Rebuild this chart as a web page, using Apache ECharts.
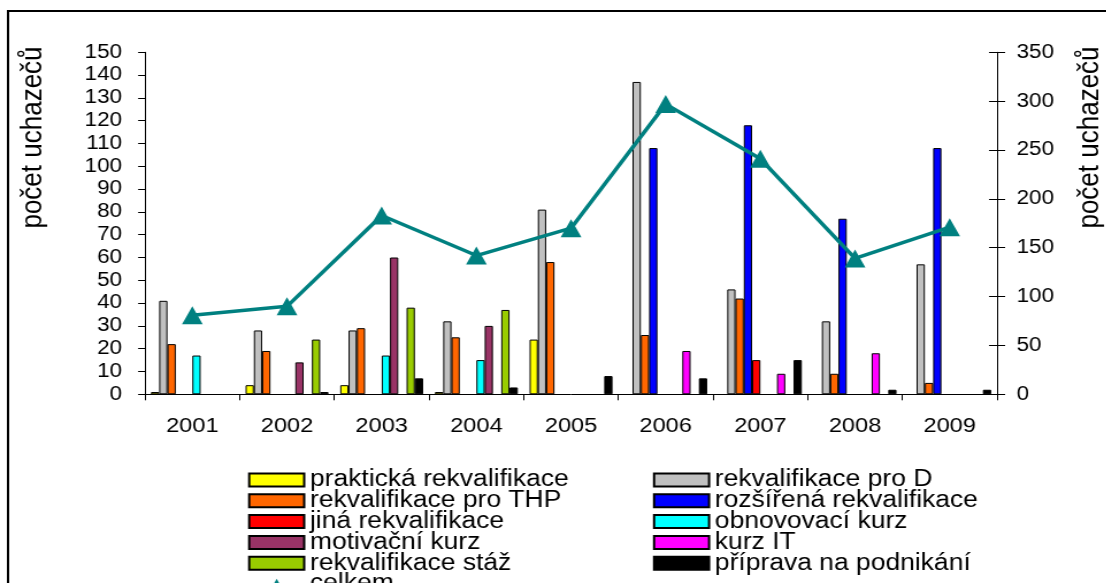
<!DOCTYPE html>
<html>
<head>
<meta charset="utf-8">
<script src="https://cdn.jsdelivr.net/npm/echarts@6/dist/echarts.min.js"></script>
<style>
  html, body { margin: 0; padding: 0; background: #fff; overflow: hidden; }
  /* the chart is laid out narrower and widened horizontally, giving the wide lettering;
     it runs past the bottom edge so the legend keeps its single columns */
  #chart { width: 962px; height: 640px; transform: scaleX(1.15); transform-origin: 0 0; }
</style>
</head>
<body>
<div id="chart"></div>
<script>
// Years
const years = ['2001', '2002', '2003', '2004', '2005', '2006', '2007', '2008', '2009'];

// Number of applicants per course type (left axis)
const prakticka   = [1, 4, 4, 1, 24, null, null, null, null];
const proD        = [41, 28, 28, 32, 81, 137, 46, 32, 57];
const proTHP      = [22, 19, 29, 25, 58, 26, 42, 9, 5];
const rozsirena   = [null, null, null, null, null, 108, 118, 77, 108];
const jina        = [null, null, null, null, null, null, 15, null, null];
const obnovovaci  = [17, null, 17, 15, null, null, null, null, null];
const motivacni   = [null, 14, 60, 30, null, null, null, null, null];
const kurzIT      = [null, null, null, null, null, 19, 9, 18, null];
const staz        = [null, 24, 38, 37, null, null, null, null, null];
const priprava    = [null, 1, 7, 3, 8, 7, 15, 2, 2];

// Total per year (right axis)
const celkem      = [81, 90, 183, 142, 170, 297, 241, 139, 171];

// Axis ranges
const leftMax = 150, leftStep = 10;
const rightMax = 350, rightStep = 50;

const FONT = "'Liberation Sans', Arial, sans-serif";

const barDefs = [
  { name: 'praktická rekvalifikace', data: prakticka,  color: '#FFFF00' },
  { name: 'rekvalifikace pro D',     data: proD,       color: '#C0C0C0' },
  { name: 'rekvalifikace pro THP',   data: proTHP,     color: '#FF6600' },
  { name: 'rozšířená rekvalifikace', data: rozsirena,  color: '#0000FF' },
  { name: 'jiná rekvalifikace',      data: jina,       color: '#FF0000' },
  { name: 'obnovovací kurz',         data: obnovovaci, color: '#00FFFF' },
  { name: 'motivační kurz',          data: motivacni,  color: '#993366' },
  { name: 'kurz IT',                 data: kurzIT,     color: '#FF00FF' },
  { name: 'rekvalifikace stáž',      data: staz,       color: '#99CC00' },
  { name: 'příprava na podnikání',   data: priprava,   color: '#000000' }
];

const series = barDefs.map(d => ({
  name: d.name,
  type: 'bar',
  yAxisIndex: 0,
  data: d.data,
  barGap: '0%',
  barCategoryGap: '12.4%',
  itemStyle: { color: d.color, borderColor: '#000', borderWidth: 1 }
}));

series.push({
  name: 'celkem',
  type: 'line',
  yAxisIndex: 1,
  data: celkem,
  z: 5,
  symbol: 'triangle',
  symbolSize: [18, 18],
  lineStyle: { color: '#008080', width: 3.5 },
  itemStyle: { color: '#008080' }
});

const legendText = { color: '#000', fontSize: 23, lineHeight: 21.5, fontFamily: FONT };
const rectItem = n => ({ name: n, icon: 'rect' });

const option = {
  animation: false,
  backgroundColor: '#fff',
  textStyle: { fontFamily: FONT },
  grid: { left: 126.1, right: 95, top: 52.3, bottom: 245.7, containLabel: false, outerBoundsMode: 'none' },
  xAxis: {
    type: 'category',
    data: years,
    axisLine: { show: true, lineStyle: { color: '#000', width: 1 } },
    axisTick: { show: true, length: 6, lineStyle: { color: '#000' } },
    axisLabel: { color: '#000', fontSize: 20.5, margin: 22, fontFamily: FONT, interval: 0 }
  },
  yAxis: [
    {
      type: 'value', position: 'left', min: 0, max: leftMax, interval: leftStep,
      axisLine: { show: true, lineStyle: { color: '#000', width: 1 } },
      axisTick: { show: true, length: 6, lineStyle: { color: '#000' } },
      axisLabel: { color: '#000', fontSize: 19.5, margin: 20, fontFamily: FONT },
      splitLine: { show: false }
    },
    {
      type: 'value', position: 'right', min: 0, max: rightMax, interval: rightStep,
      axisLine: { show: true, lineStyle: { color: '#000', width: 1 } },
      axisTick: { show: true, length: 7, lineStyle: { color: '#000' } },
      axisLabel: { color: '#000', fontSize: 19.5, margin: 17, fontFamily: FONT },
      splitLine: { show: false }
    },
    {
      // inner half of the crossing ticks on the right axis
      type: 'value', position: 'right', min: 0, max: rightMax, interval: rightStep,
      axisLine: { show: false },
      axisTick: { show: true, inside: true, length: 7, lineStyle: { color: '#000' } },
      axisLabel: { show: false },
      splitLine: { show: false }
    }
  ],
  legend: [
    {
      orient: 'vertical', left: 215.7, top: 468.5, padding: 0,
      itemWidth: 47.8, itemHeight: 13, itemGap: -2.2,
      textStyle: legendText,
      data: [
        rectItem('praktická rekvalifikace'),
        rectItem('rekvalifikace pro THP'),
        rectItem('jiná rekvalifikace'),
        rectItem('motivační kurz'),
        rectItem('rekvalifikace stáž'),
        { name: 'celkem' }
      ]
    },
    {
      orient: 'vertical', left: 567.8, top: 468.5, padding: 0,
      itemWidth: 47.8, itemHeight: 13, itemGap: -2.2,
      textStyle: legendText,
      data: [
        rectItem('rekvalifikace pro D'),
        rectItem('rozšířená rekvalifikace'),
        rectItem('obnovovací kurz'),
        rectItem('kurz IT'),
        rectItem('příprava na podnikání')
      ]
    }
  ],
  graphic: [
    {
      type: 'rect', silent: true, z: -1,
      shape: { x: 7, y: 11, width: 1200, height: 800 },
      style: { fill: null, stroke: '#000', lineWidth: 2 }
    },
    {
      type: 'text', silent: true, x: 29, y: 137.5, rotation: Math.PI / 2,
      style: { text: 'počet uchazečů', fill: '#000', font: '26px ' + FONT, align: 'center', verticalAlign: 'middle' }
    },
    {
      type: 'text', silent: true, x: 948, y: 137.5, rotation: Math.PI / 2,
      style: { text: 'počet uchazečů', fill: '#000', font: '26px ' + FONT, align: 'center', verticalAlign: 'middle' }
    }
  ],
  series: series
};

const chart = echarts.init(document.getElementById('chart'), null, { renderer: 'canvas' });
chart.setOption(option);
</script>
</body>
</html>
